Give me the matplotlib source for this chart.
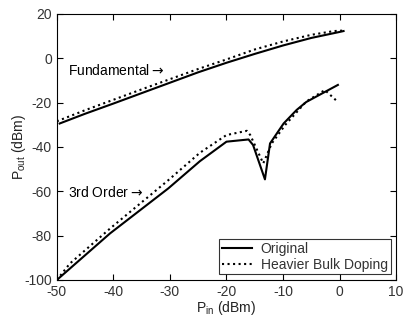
import matplotlib
matplotlib.use('Agg')
import matplotlib.pyplot as plt
import numpy as np

# Fundamental, original device
fund_orig_x = [-49.5, -45, -40, -35, -30, -25, -20, -15, -10, -5, 0, 0.7]
fund_orig_y = [-29.4, -25.0, -20.4, -15.7, -11.0, -6.3, -2.0, 2.0, 5.8, 9.2, 11.9, 12.3]

# Fundamental, heavier bulk doping
fund_dop_x = [-50, -45, -40, -35, -30, -25, -20, -15, -10, -5, -1, 0.5]
fund_dop_y = [-28.4, -23.4, -18.7, -14.0, -9.4, -4.8, -0.5, 4.0, 7.6, 10.6, 12.3, 12.5]

# Third order, original device
third_orig_x = [-50, -40.6, -30.3, -24.7, -20.0, -16.1, -15.3, -13.2, -12.3, -9.9, -7.6, -5.9, -0.3]
third_orig_y = [-100, -79.0, -58.7, -46.4, -37.6, -36.6, -39.1, -54.6, -38.4, -29.4, -23.3, -19.7, -12.0]

# Third order, heavier bulk doping
third_dop_x = [-50, -47.7, -40.6, -30.3, -24.7, -20.0, -16.4, -15.8, -13.5, -12.0, -9.6, -5.9, -2.6, -0.3]
third_dop_y = [-100, -92.6, -76.8, -55.0, -42.6, -34.6, -32.7, -34.6, -47.4, -38.4, -30.0, -19.5, -14.3, -19.7]

xticks = [-50, -40, -30, -20, -10, 0, 10]
yticks = [-100, -80, -60, -40, -20, 0, 20]

plt.rcParams['font.family'] = ['Liberation Sans', 'DejaVu Sans']
plt.rcParams['axes.unicode_minus'] = False

fig = plt.figure(figsize=(4.03, 3.18), dpi=100)
ax = fig.add_axes([0.141, 0.1195, 0.842, 0.8365])

ax.plot(fund_orig_x, fund_orig_y, 'k-', lw=1.5, label='Original')
ax.plot(fund_dop_x, fund_dop_y, 'k:', lw=1.5, label='Heavier Bulk Doping')
ax.plot(third_orig_x, third_orig_y, 'k-', lw=1.5)
ax.plot(third_dop_x, third_dop_y, 'k:', lw=1.5)

ax.text(-48.1, -5.7, 'Fundamental$\\rightarrow$', fontsize=10, va='center', ha='left')
ax.text(-48.1, -60.4, '3rd Order$\\rightarrow$', fontsize=10, va='center', ha='left')

ax.set_xlim(-50, 10)
ax.set_ylim(-100, 20)
ax.set_xticks(xticks)
ax.set_yticks(yticks)
ax.tick_params(direction='in', top=True, right=True, labelsize=10,
               labelcolor='#333333', length=4)
for s in ax.spines.values():
    s.set_linewidth(0.8)

ax.set_xlabel('P$_{\\mathregular{in}}$ (dBm)', fontsize=10, labelpad=0, color='#222222')
ax.set_ylabel('P$_{\\mathregular{out}}$ (dBm)', fontsize=10, labelpad=-3, color='#222222')

leg = ax.legend(loc='lower right', fontsize=10, frameon=True, fancybox=False,
                edgecolor='black', borderaxespad=0.4, handlelength=2.2,
                borderpad=0.2, labelspacing=0.1, handletextpad=0.6)
leg.get_frame().set_linewidth(0.8)
for t in leg.get_texts():
    t.set_color('#333333')

fig.savefig('out.png', dpi=100)
